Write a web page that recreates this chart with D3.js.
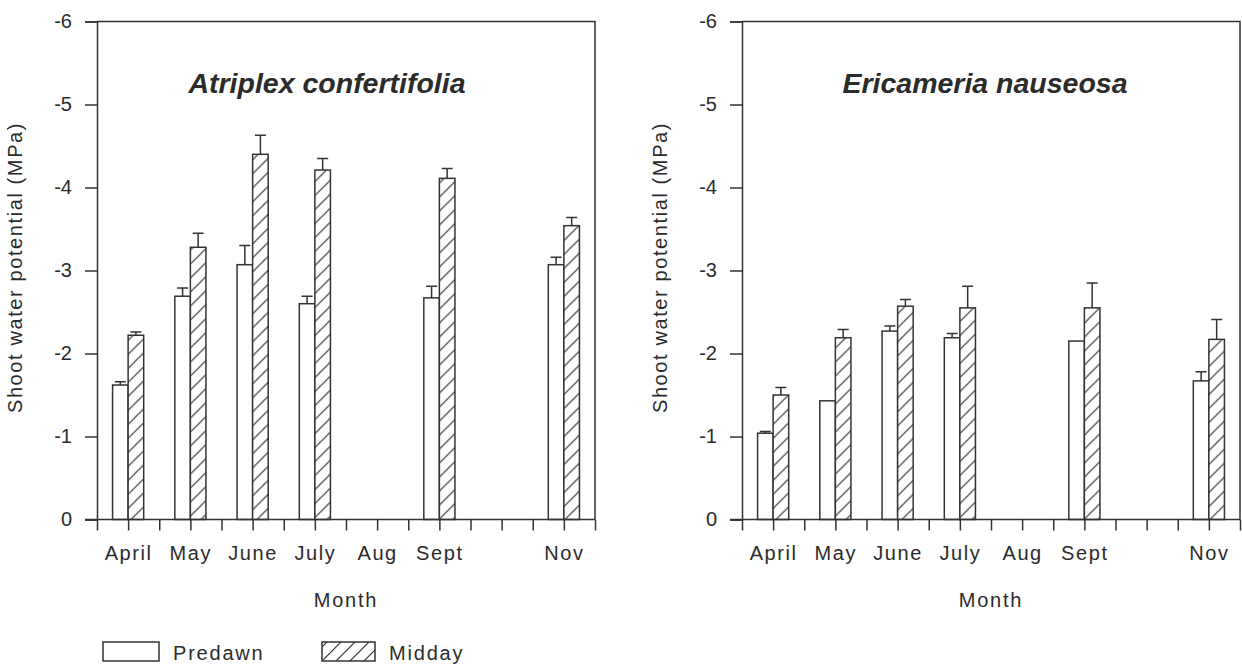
<!DOCTYPE html>
<html>
<head>
<meta charset="utf-8">
<script src="https://cdn.jsdelivr.net/npm/d3@7"></script>
<style>
  body { margin: 0; background: #fff; }
  svg { display: block; }
  text { font-family: "Liberation Sans", Arial, sans-serif; fill: #2b2b2b; }
</style>
</head>
<body>
<script>
const width = 1242;
const height = 667;

// Data (MPa)
const months = ["April", "May", "June", "July", "Aug", "Sept", "Nov"];
const monthNum = [4, 5, 6, 7, 8, 9, 11];

const atriplexPredawn   = [-1.62, -2.69, -3.07, -2.60, null, -2.67, -3.07];
const atriplexPredawnSE = [0.04, 0.10, 0.23, 0.09, null, 0.14, 0.09];
const atriplexMidday    = [-2.22, -3.28, -4.40, -4.21, null, -4.11, -3.54];
const atriplexMiddaySE  = [0.04, 0.17, 0.23, 0.14, null, 0.12, 0.10];

const ericameriaPredawn   = [-1.04, -1.43, -2.27, -2.19, null, -2.15, -1.67];
const ericameriaPredawnSE = [0.02, 0, 0.06, 0.05, null, 0, 0.11];
const ericameriaMidday    = [-1.50, -2.19, -2.57, -2.55, null, -2.55, -2.17];
const ericameriaMiddaySE  = [0.09, 0.10, 0.08, 0.26, null, 0.30, 0.24];

const yTicks = [0, -1, -2, -3, -4, -5, -6];
const seriesNames = ["Predawn", "Midday"];

const panels = [
  { title: "Atriplex confertifolia", left: 97, titleX: 230,
    predawn: atriplexPredawn, predawnSE: atriplexPredawnSE,
    midday: atriplexMidday, middaySE: atriplexMiddaySE },
  { title: "Ericameria nauseosa", left: 742, titleX: 243,
    predawn: ericameriaPredawn, predawnSE: ericameriaPredawnSE,
    midday: ericameriaMidday, middaySE: ericameriaMiddaySE }
];

const plotTop = 21.5;
const plotW = 498;
const plotH = 498;
const ink = "#333";

const svg = d3.select("body")
  .append("svg")
  .attr("width", width)
  .attr("height", height);

// Hatch pattern for midday bars
const defs = svg.append("defs");
const hatch = defs.append("pattern")
  .attr("id", "hatch")
  .attr("patternUnits", "userSpaceOnUse")
  .attr("width", 14)
  .attr("height", 14);
hatch.append("rect").attr("width", 14).attr("height", 14).attr("fill", "#fff");
hatch.append("path")
  .attr("d", "M0,14 L14,0 M-3.5,3.5 L3.5,-3.5 M10.5,17.5 L17.5,10.5")
  .attr("stroke", ink)
  .attr("stroke-width", 1.2);

const x = d3.scaleLinear().domain([3.5, 11.5]).range([0, plotW]);
const y = d3.scaleLinear().domain([0, -6]).range([plotH, 0]);
const halfStep = x(4) - x(3.75); // bar width = a quarter month

const monthLabel = new Map(monthNum.map((m, i) => [m, months[i]]));

panels.forEach(p => {
  const g = svg.append("g").attr("transform", `translate(${p.left},${plotTop})`);

  // Frame: top and right
  g.append("path")
    .attr("d", `M0,0 H${plotW} V${plotH}`)
    .attr("fill", "none")
    .attr("stroke", ink)
    .attr("stroke-width", 1.5);

  // Bars
  const rows = monthNum.map((m, i) => ({
    m, pre: p.predawn[i], preSE: p.predawnSE[i], mid: p.midday[i], midSE: p.middaySE[i]
  })).filter(d => d.pre !== null);

  const bars = g.append("g");
  // Predawn: left of month tick
  bars.selectAll(".pre")
    .data(rows)
    .enter()
    .append("rect")
    .attr("class", "pre")
    .attr("x", d => x(d.m) - halfStep)
    .attr("y", d => y(d.pre))
    .attr("width", halfStep)
    .attr("height", d => y(0) - y(d.pre))
    .attr("fill", "#fff")
    .attr("stroke", ink)
    .attr("stroke-width", 1.5);

  // Midday: right of month tick
  bars.selectAll(".mid")
    .data(rows)
    .enter()
    .append("rect")
    .attr("class", "mid")
    .attr("x", d => x(d.m))
    .attr("y", d => y(d.mid))
    .attr("width", halfStep)
    .attr("height", d => y(0) - y(d.mid))
    .attr("fill", "url(#hatch)")
    .attr("stroke", ink)
    .attr("stroke-width", 1.5);

  // Error bars (one-sided, upward)
  const errs = [];
  rows.forEach(d => {
    if (d.preSE > 0) errs.push({ cx: x(d.m) - halfStep / 2, v: d.pre, se: d.preSE });
    if (d.midSE > 0) errs.push({ cx: x(d.m) + halfStep / 2, v: d.mid, se: d.midSE });
  });
  const cap = 5.5;
  g.append("g").selectAll("path")
    .data(errs)
    .enter()
    .append("path")
    .attr("d", d => `M${d.cx},${y(d.v)} V${y(d.v - d.se)} M${d.cx - cap},${y(d.v - d.se)} H${d.cx + cap}`)
    .attr("fill", "none")
    .attr("stroke", ink)
    .attr("stroke-width", 1.5);

  // Y axis
  const yAxis = g.append("g")
    .call(d3.axisLeft(y).tickValues(yTicks).tickSize(12).tickPadding(13)
      .tickFormat(d => String(d)));
  yAxis.select(".domain").attr("stroke", ink).attr("stroke-width", 1.5);
  yAxis.selectAll(".tick line").attr("stroke", ink).attr("stroke-width", 1.5);
  yAxis.selectAll(".tick text")
    .attr("font-size", 20)
    .attr("fill", "#2b2b2b")
    .style("font-family", "'Liberation Sans', Arial, sans-serif");

  // X axis
  const xAxis = g.append("g")
    .attr("transform", `translate(0,${plotH})`)
    .call(d3.axisBottom(x).tickValues(d3.range(3.5, 11.51, 0.5)).tickSize(11).tickPadding(15)
      .tickSizeOuter(0)
      .tickFormat(d => monthLabel.get(d) || ""));
  xAxis.select(".domain")
    .attr("d", `M-12,0 H${plotW}`)
    .attr("stroke", ink).attr("stroke-width", 1.5);
  xAxis.selectAll(".tick line").attr("stroke", ink).attr("stroke-width", 1.5);
  xAxis.selectAll(".tick text")
    .attr("font-size", 20)
    .attr("fill", "#2b2b2b")
    .style("letter-spacing", "1.6px")
    .style("font-family", "'Liberation Sans', Arial, sans-serif");

  // Axis titles
  g.append("text")
    .attr("x", plotW / 2)
    .attr("y", 585)
    .attr("text-anchor", "middle")
    .attr("font-size", 20)
    .style("letter-spacing", "1.8px")
    .text("Month");

  g.append("text")
    .attr("transform", `translate(${-75},${246}) rotate(-90)`)
    .attr("text-anchor", "middle")
    .attr("font-size", 20)
    .style("letter-spacing", "1.6px")
    .text("Shoot water potential (MPa)");

  // Panel title
  g.append("text")
    .attr("x", p.titleX)
    .attr("y", 71)
    .attr("text-anchor", "middle")
    .attr("font-size", 28.5)
    .attr("font-weight", "bold")
    .attr("font-style", "italic")
    .text(p.title);
});

// Legend
const legend = svg.append("g").attr("transform", "translate(103,642)");
const legendX = [0, 219];
const legendW = [56, 53];
seriesNames.forEach((name, i) => {
  legend.append("rect")
    .attr("x", legendX[i])
    .attr("y", 0)
    .attr("width", legendW[i])
    .attr("height", 19)
    .attr("fill", i === 0 ? "#fff" : "url(#hatch)")
    .attr("stroke", ink)
    .attr("stroke-width", 1.5);
  legend.append("text")
    .attr("x", legendX[i] + legendW[i] + 14)
    .attr("y", 18)
    .attr("font-size", 20)
    .style("letter-spacing", "1.8px")
    .text(name);
});
</script>
</body>
</html>
